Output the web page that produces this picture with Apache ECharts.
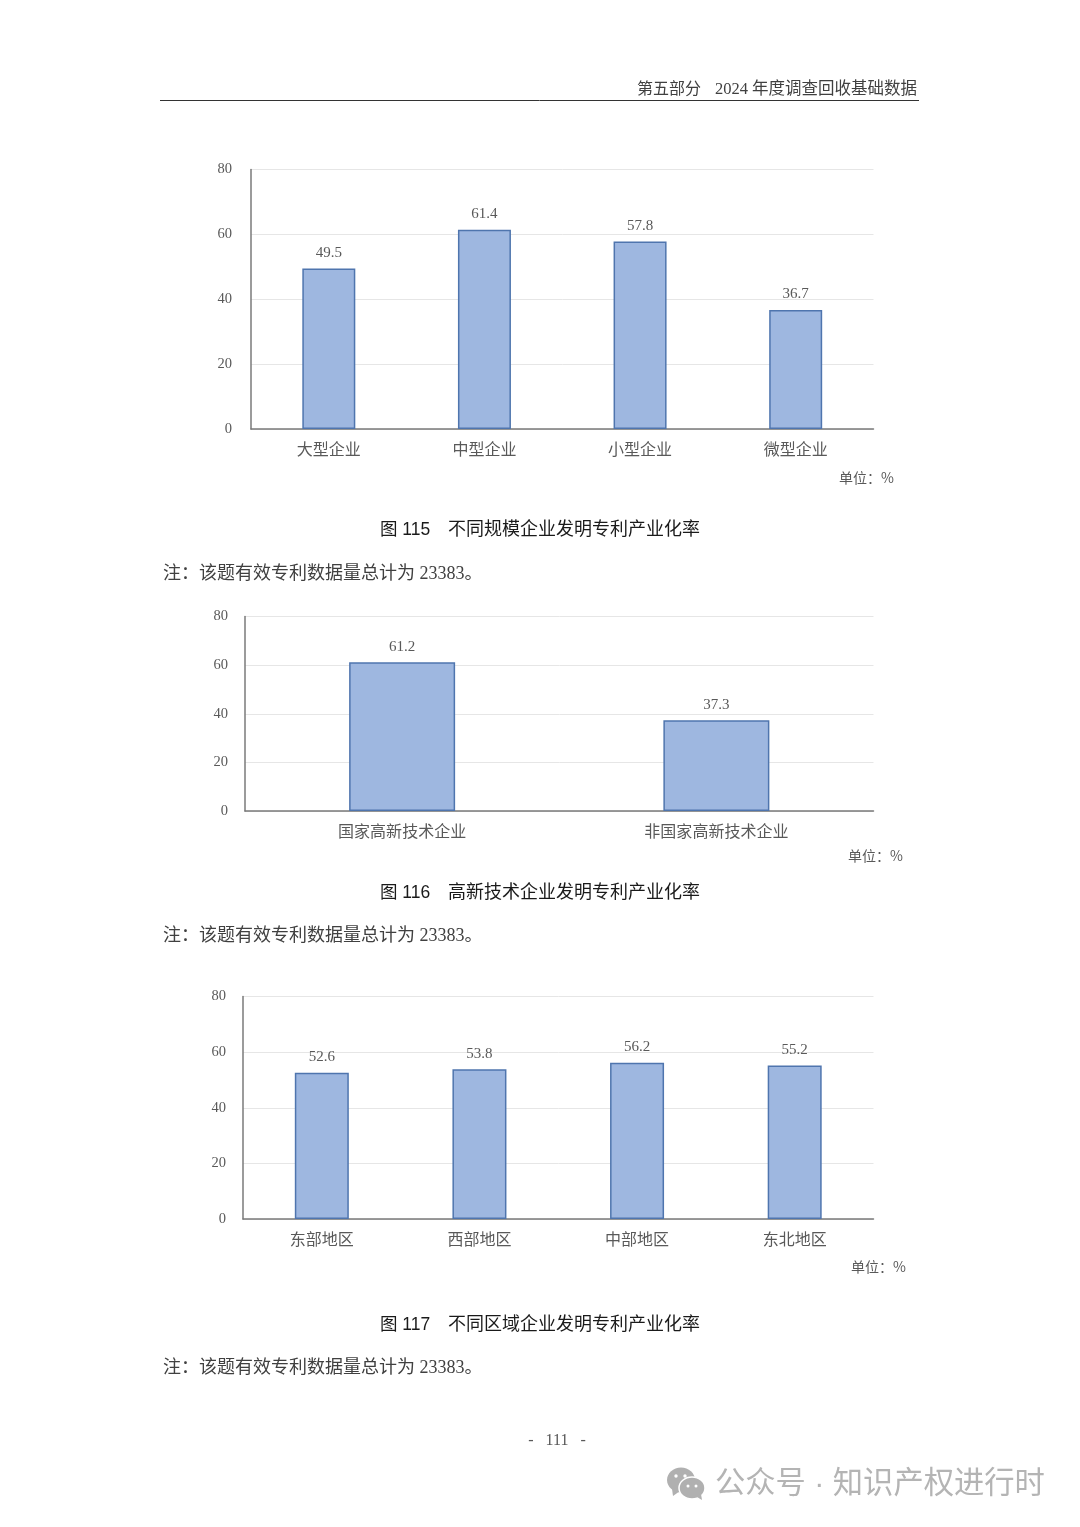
<!DOCTYPE html>
<html>
<head>
<meta charset="utf-8">
<script src="https://cdn.jsdelivr.net/npm/echarts@6/dist/echarts.min.js"></script>
<style>html,body{margin:0;padding:0;background:#fff}#c{width:1080px;height:1527px}</style>
</head>
<body>
<div id="c"></div>
<script>
const sizeCategories = ['大型企业', '中型企业', '小型企业', '微型企业'];
const sizeValues = [49.5, 61.4, 57.8, 36.7];
const techCategories = ['国家高新技术企业', '非国家高新技术企业'];
const techValues = [61.2, 37.3];
const regionCategories = ['东部地区', '西部地区', '中部地区', '东北地区'];
const regionValues = [52.6, 53.8, 56.2, 55.2];
const headerLeft = '第五部分';
const headerRight = '2024 年度调查回收基础数据';
const captions = ['图 115', '不同规模企业发明专利产业化率', '图 116', '高新技术企业发明专利产业化率', '图 117', '不同区域企业发明专利产业化率'];
const noteText = '注：该题有效专利数据量总计为 23383。';
const unitText = '单位：%';
const pageNumber = '-   111   -';
const watermark = '公众号 · 知识产权进行时';

const serif = '"Liberation Serif","Noto Sans CJK SC",serif';
const cjk = '"Noto Sans CJK SC",sans-serif';
const capFont = '"Liberation Sans","Noto Sans CJK SC",sans-serif';
const grids = [
  {left: 251, top: 169.5, width: 622.5, height: 259.5},
  {left: 245, top: 616.5, width: 628.5, height: 194.5},
  {left: 243, top: 996.5, width: 630.5, height: 222.5}
];
const cats = [sizeCategories, techCategories, regionCategories];
const vals = [sizeValues, techValues, regionValues];
const barW = [53, 106, 54];
const tickMargin = [19, 17, 17];

function txt(x, y, text, size, color, align, font, weight) {
  return {type: 'text', x, y, silent: true, style: {
    text, fontSize: size, fill: color, align: align || 'left', verticalAlign: 'middle',
    fontFamily: font || cjk, fontWeight: weight || 'normal'
  }};
}
const g = [
  txt(637, 89.5, headerLeft, 16, '#404040', 'left', serif),
  txt(917, 89.5, headerRight, 16.5, '#404040', 'right', serif),
  {type: 'line', silent: true, shape: {x1: 160, y1: 100.5, x2: 919, y2: 100.5}, style: {stroke: '#333', lineWidth: 1}},
  txt(894, 478, unitText, 14, '#595959', 'right'),
  txt(903, 856, unitText, 14, '#595959', 'right'),
  txt(906, 1267, unitText, 14, '#595959', 'right'),
  txt(380, 530, captions[0], 17.5, '#1a1a1a', 'left', capFont),
  txt(448, 530, captions[1], 18, '#1a1a1a', 'left', capFont),
  txt(380, 893, captions[2], 17.5, '#1a1a1a', 'left', capFont),
  txt(448, 893, captions[3], 18, '#1a1a1a', 'left', capFont),
  txt(380, 1325, captions[4], 17.5, '#1a1a1a', 'left', capFont),
  txt(448, 1325, captions[5], 18, '#1a1a1a', 'left', capFont),
  txt(163, 574, noteText, 18, '#404040', 'left', serif),
  txt(163, 936, noteText, 18, '#404040', 'left', serif),
  txt(163, 1368, noteText, 18, '#404040', 'left', serif),
  txt(557, 1441, pageNumber, 16, '#595959', 'center', serif),
  txt(715, 1485, watermark, 30.3, '#b4b4b4', 'left', capFont),
  {type: 'ellipse', silent: true, shape: {cx: 681, cy: 1480, rx: 14, ry: 12.5}, style: {fill: '#b0b0b0'}},
  {type: 'polygon', silent: true, shape: {points: [[672, 1489], [673, 1496], [680, 1491]]}, style: {fill: '#b0b0b0'}},
  {type: 'ellipse', silent: true, shape: {cx: 692, cy: 1488, rx: 13, ry: 11}, style: {fill: '#b0b0b0', stroke: '#fff', lineWidth: 1.5}},
  {type: 'polygon', silent: true, shape: {points: [[697, 1497], [702, 1500], [701, 1494]]}, style: {fill: '#b0b0b0'}},
  {type: 'circle', silent: true, shape: {cx: 676, cy: 1476, r: 1.7}, style: {fill: '#fff'}},
  {type: 'circle', silent: true, shape: {cx: 685, cy: 1476, r: 1.7}, style: {fill: '#fff'}},
  {type: 'circle', silent: true, shape: {cx: 688, cy: 1486, r: 1.5}, style: {fill: '#fff'}},
  {type: 'circle', silent: true, shape: {cx: 696, cy: 1486, r: 1.5}, style: {fill: '#fff'}}
];

const chart = echarts.init(document.getElementById('c'), null, {renderer: 'canvas'});
chart.setOption({
  animation: false,
  backgroundColor: '#ffffff',
  grid: grids,
  graphic: g,
  xAxis: cats.map((c, i) => ({
    type: 'category', gridIndex: i, data: c,
    axisTick: {show: false},
    axisLine: {lineStyle: {color: '#7a7a7a', width: 1.5}},
    axisLabel: {color: '#595959', fontSize: 16, fontFamily: cjk, margin: 12, interval: 0}
  })),
  yAxis: cats.map((c, i) => ({
    type: 'value', gridIndex: i, min: 0, max: 80, interval: 20,
    axisTick: {show: false},
    axisLine: {show: true, lineStyle: {color: '#7a7a7a', width: 1.5}},
    splitLine: {lineStyle: {color: '#e6e6e6', width: 1}},
    axisLabel: {color: '#595959', fontSize: 14.5, fontFamily: serif, margin: tickMargin[i], padding: [3, 0, 0, 0]}
  })),
  series: vals.map((v, i) => ({
    type: 'bar', xAxisIndex: i, yAxisIndex: i, data: v, barWidth: barW[i],
    itemStyle: {color: '#9eb7e0', borderColor: '#4f75ae', borderWidth: 1.5},
    label: {show: true, position: 'top', distance: 8, color: '#595959', fontSize: 15, fontFamily: serif,
      formatter: p => p.value.toFixed(1)}
  }))
});
</script>
</body>
</html>
